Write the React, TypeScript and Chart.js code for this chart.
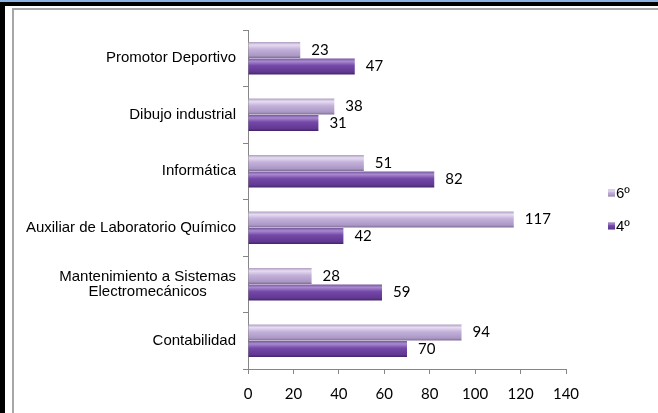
import React, { useEffect, useRef } from "react";
import { Chart, registerables } from "chart.js";
Chart.register(...registerables);

const categories: (string | string[])[] = [
  "Promotor Deportivo",
  "Dibujo industrial",
  "Informática",
  "Auxiliar de Laboratorio Químico",
  ["Mantenimiento a Sistemas", "Electromecánicos       "],
  "Contabilidad",
];
const seriesNames = ["6º", "4º"];
const values6 = [23, 38, 51, 117, 28, 94];
const values4 = [47, 31, 82, 42, 59, 70];
const xMin = 0;
const xMax = 140;
const xStep = 20;

const CAT_PCT = 0.58;
const BAR_PCT = 0.97;

const palettes = [
  ["#b0a0c4", "#e6dcf2", "#c3b1da", "#ab97c4", "#7c6c93"],
  ["#7556a0", "#a98ad0", "#7448a8", "#623892", "#44256a"],
];

function makeGradient(c: CanvasRenderingContext2D, top: number, bottom: number, p: string[]) {
  const g = c.createLinearGradient(0, top, 0, bottom);
  g.addColorStop(0, p[0]);
  g.addColorStop(0.18, p[1]);
  g.addColorStop(0.45, p[2]);
  g.addColorStop(0.85, p[3]);
  g.addColorStop(1, p[4]);
  return g;
}

function barFill(dsIndex: number) {
  return (ctx: any) => {
    const chart = ctx.chart;
    const area = chart.chartArea;
    const p = palettes[dsIndex];
    if (!area || ctx.dataIndex === undefined || !chart.scales.y) return p[2];
    const yScale = chart.scales.y;
    const center = yScale.getPixelForValue(ctx.dataIndex);
    const catH = (area.bottom - area.top) / categories.length;
    const slot = (catH * CAT_PCT) / 2;
    const barH = slot * BAR_PCT;
    const bc = center + (dsIndex === 0 ? -slot / 2 : slot / 2);
    return makeGradient(chart.ctx, bc - barH / 2, bc + barH / 2, p);
  };
}

const valueLabels = {
  id: "valueLabels",
  afterDatasetsDraw(chart: any) {
    const c = chart.ctx;
    c.save();
    c.font = "15px Lato";
    c.fillStyle = "#000";
    c.textBaseline = "middle";
    c.textAlign = "left";
    chart.data.datasets.forEach((ds: any, i: number) => {
      chart.getDatasetMeta(i).data.forEach((bar: any, j: number) => {
        c.fillText(String(ds.data[j]), bar.x + 11, bar.y);
      });
    });
    c.restore();
  },
};

const sideLegend = {
  id: "sideLegend",
  afterDraw(chart: any) {
    const c = chart.ctx;
    const area = chart.chartArea;
    const x = area.right + 42;
    const ys = [area.top + 163, area.top + 196];
    c.save();
    c.font = "15px 'Liberation Sans'";
    c.textBaseline = "middle";
    c.textAlign = "left";
    seriesNames.forEach((name, i) => {
      const y = ys[i];
      c.fillStyle = makeGradient(c, y - 3.5, y + 3.5, palettes[i]);
      c.fillRect(x, y - 3.5, 7, 7);
      c.fillStyle = "#000";
      c.fillText(name, x + 8, y + 1);
    });
    c.restore();
  },
};

export default function App() {
  const ref = useRef<HTMLCanvasElement>(null);
  useEffect(() => {
    if (!ref.current) return;
    const chart = new Chart(ref.current, {
      type: "bar",
      data: {
        labels: categories as any,
        datasets: [
          {
            label: seriesNames[0],
            data: values6,
            backgroundColor: barFill(0) as any,
            categoryPercentage: CAT_PCT,
            barPercentage: BAR_PCT,
          },
          {
            label: seriesNames[1],
            data: values4,
            backgroundColor: barFill(1) as any,
            categoryPercentage: CAT_PCT,
            barPercentage: BAR_PCT,
          },
        ],
      },
      options: {
        indexAxis: "y",
        animation: false,
        responsive: false,
        maintainAspectRatio: false,
        layout: { padding: { top: 30, right: 92, left: 0, bottom: 0 } },
        plugins: {
          legend: { display: false },
          tooltip: { enabled: false },
          title: { display: false },
        },
        scales: {
          x: {
            min: xMin,
            max: xMax,
            ticks: {
              stepSize: xStep,
              color: "#000",
              font: { family: "Lato", size: 15 },
              padding: 11,
            },
            grid: {
              drawOnChartArea: false,
              tickLength: 5,
              color: "#868686",
            },
            border: { color: "#868686" },
            afterFit: (s: any) => {
              s.height = 44;
            },
          },
          y: {
            ticks: {
              color: "#000",
              font: { family: "Liberation Sans", size: 15, lineHeight: 1.05 },
              padding: 7,
            },
            grid: {
              drawOnChartArea: false,
              tickLength: 5,
              color: "#868686",
              offset: true,
            },
            border: { color: "#868686" },
            afterFit: (s: any) => {
              s.width = 248;
            },
          },
        },
      },
      plugins: [valueLabels, sideLegend],
    });
    return () => chart.destroy();
  }, []);

  return (
    <div style={{ position: "fixed", left: 0, top: 0, width: 658, height: 413, background: "#fff", overflow: "hidden" }}>
      <canvas ref={ref} width={658} height={413} style={{ position: "absolute", left: 0, top: 0, width: 658, height: 413 }} />
      <div style={{ position: "absolute", left: 0, top: 0, width: 658, height: 2, background: "#8db3e2" }} />
      <div style={{ position: "absolute", left: 0, top: 2, width: 658, height: 4, background: "#000" }} />
      <div style={{ position: "absolute", left: 0, top: 2, width: 5, height: 411, background: "#000" }} />
      <div style={{ position: "absolute", left: 12, top: 8, width: 646, height: 2, background: "#a6a6a6" }} />
      <div style={{ position: "absolute", left: 12, top: 8, width: 2, height: 405, background: "#a6a6a6" }} />
    </div>
  );
}
